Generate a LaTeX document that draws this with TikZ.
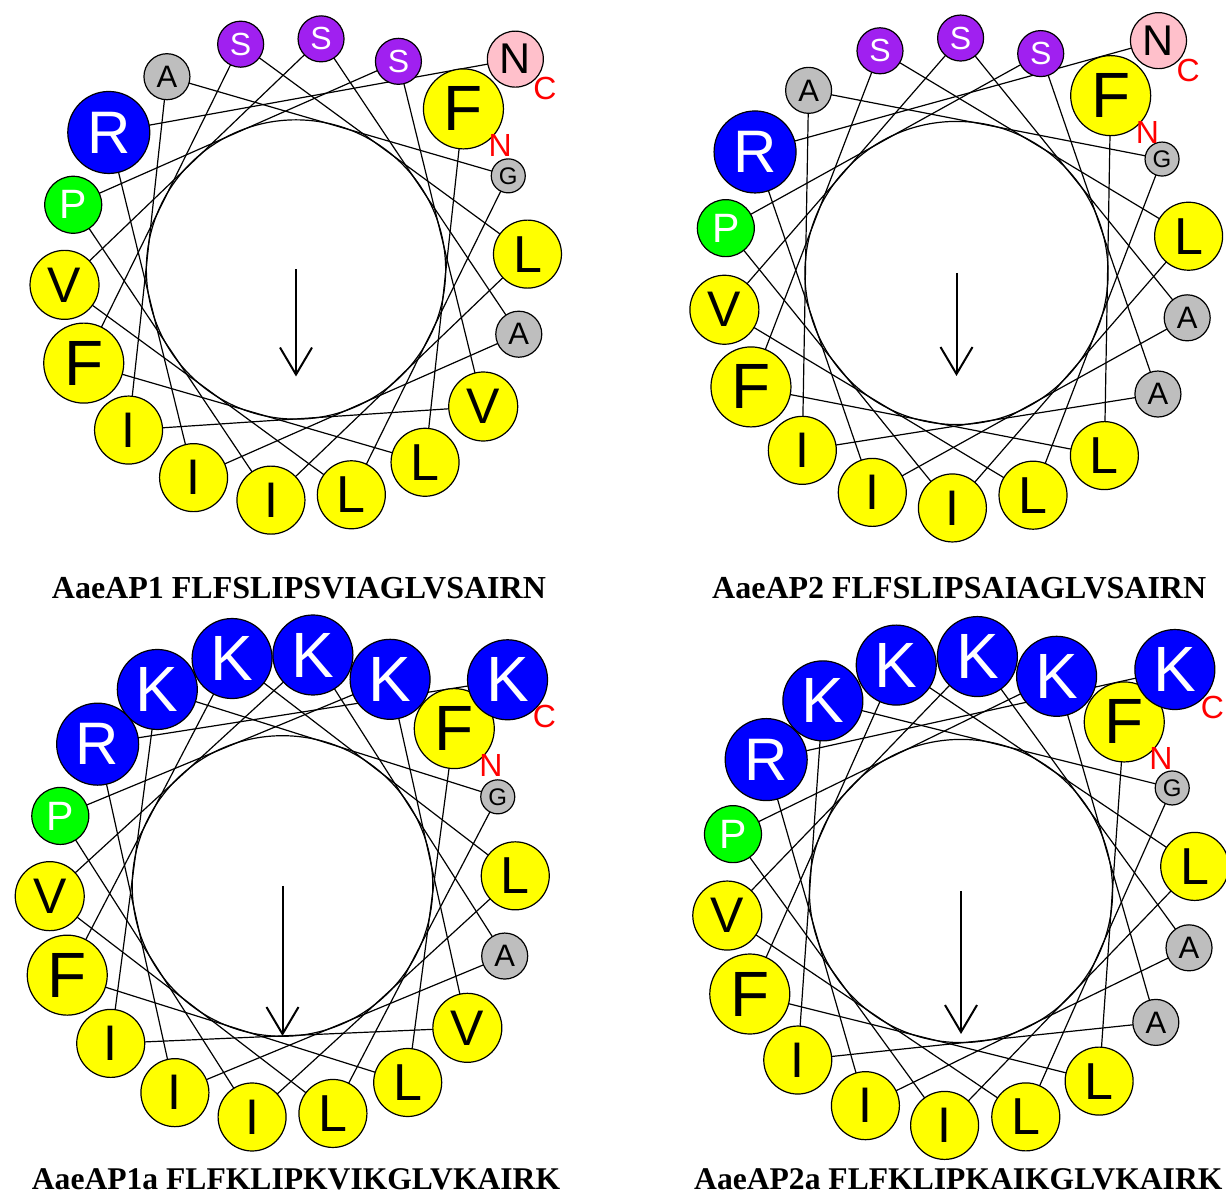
\documentclass[tikz,border=0pt]{standalone}
\usepackage{fontspec}
\setmainfont{Liberation Serif}
\newfontfamily\resfont{Liberation Sans}
\usetikzlibrary{arrows.meta,backgrounds}

\definecolor{hydrophobic}{RGB}{255,255,0}
\definecolor{basic}{RGB}{0,0,255}
\definecolor{polar}{RGB}{160,32,240}
\definecolor{small}{RGB}{190,190,190}
\definecolor{proline}{RGB}{0,255,0}
\definecolor{amide}{RGB}{255,192,203}

\newcommand\rsize[1]{\resfont\fontsize{#1}{#1}\selectfont}

\tikzset{
	res/.style={circle, draw, line width=1.2pt, inner sep=0pt, text=black},
	aa-F/.style={res, fill=hydrophobic, minimum size=80pt, font=\rsize{64}},
	aa-L/.style={res, fill=hydrophobic, minimum size=68pt, font=\rsize{52}},
	aa-I/.style={res, fill=hydrophobic, minimum size=68pt, font=\rsize{50}},
	aa-V/.style={res, fill=hydrophobic, minimum size=69pt, font=\rsize{50}},
	aa-P/.style={res, fill=proline, text=white, minimum size=57pt, font=\rsize{41}},
	aa-S/.style={res, fill=polar, text=white, minimum size=46pt, font=\rsize{32}},
	aa-A/.style={res, fill=small, minimum size=46pt, font=\rsize{31}},
	aa-G/.style={res, fill=small, minimum size=34pt, font=\rsize{24}},
	aa-N/.style={res, fill=amide, minimum size=56pt, font=\rsize{43}},
	aa-R/.style={res, fill=basic, text=white, minimum size=82pt, font=\rsize{60}},
	aa-K/.style={res, fill=basic, text=white, minimum size=80pt, font=\rsize{64}},
	turn/.style={line width=1.2pt},
	core/.style={line width=1.2pt},
	moment/.style={line width=2pt, -{Straight Barb[length=27pt,width=32pt]}},
	term/.style={text=red, inner sep=0pt, font=\rsize{32}},
	caption/.style={inner sep=0pt, font=\fontsize{32}{32}\selectfont\bfseries},
	caption a/.style={caption, font=\fontsize{31.6}{32}\selectfont\bfseries},
}

% #1 name, #2 centre, #3 wheel radius, #4 angle of residue 1,
% #5 residues, #6 moment length, #7 gap of the C label
\newcommand\helicalwheel[7]{%
	\begin{scope}[shift={#2}]
		\coordinate (#1-o) at (0,0);
		\draw[core] (#1-o) circle[radius=0.645*#3];
		\foreach \aa [count=\i] in {#5} {
			\pgfmathsetmacro\ang{#4-100*(\i-1)}
			\pgfmathsetmacro\rad{\i<19 ? #3 : 1.31*#3}
			\edef\tmp{\noexpand\node[aa-\aa] (#1-\i) at (\ang:\rad) {\aa};}\tmp
		}
		\begin{pgfonlayer}{background}
			\foreach \i [evaluate=\i as \j using int(\i+1)] in {1,...,18}
				\draw[turn] (#1-\i.center) -- (#1-\j.center);
		\end{pgfonlayer}
		\path (#1-1.center) ++(-45:52) node[term] (#1-nterm) {N};
		\path (#1-19.center) ++(-45:#7) node[term] (#1-cterm) {C};
		\coordinate (#1-m) at (0,-#6);
		\draw[moment] (#1-o) -- (#1-m);
	\end{scope}}

\begin{document}
\begin{tikzpicture}[x=1pt, y=1pt]
	\begin{pgfonlayer}{background}
		\fill[white] (0,0) rectangle (1226,1196);
	\end{pgfonlayer}
	\useasboundingbox (0,0) rectangle (1226,1196);

	\helicalwheel{ap1}{(296,926.5)}{232}{43.8}{F,L,F,S,L,I,P,S,V,I,A,G,L,V,S,A,I,R,N}{107}{42}
	\helicalwheel{ap2}{(956.5,923)}{235}{49}{F,L,F,S,L,I,P,S,A,I,A,G,L,V,S,A,I,R,N}{103}{42}
	\helicalwheel{ap1a}{(282.5,310)}{233}{42.5}{F,L,F,K,L,I,P,K,V,I,K,G,L,V,K,A,I,R,K}{150}{52}
	\helicalwheel{ap2a}{(961,305)}{235}{46}{F,L,F,K,L,I,P,K,A,I,K,G,L,V,K,A,I,R,K}{143}{53}

	\node[caption, anchor=base west] (cap-ap1) at (51.7,597) {AaeAP1 FLFSLIPSVIAGLVSAIRN};
	\node[caption, anchor=base west] (cap-ap2) at (712,597) {AaeAP2 FLFSLIPSAIAGLVSAIRN};
	\node[caption a, anchor=base west] (cap-ap1a) at (31.7,6) {AaeAP1a FLFKLIPKVIKGLVKAIRK};
	\node[caption a, anchor=base west] (cap-ap2a) at (694,6) {AaeAP2a FLFKLIPKAIKGLVKAIRK};
\end{tikzpicture}
\end{document}
